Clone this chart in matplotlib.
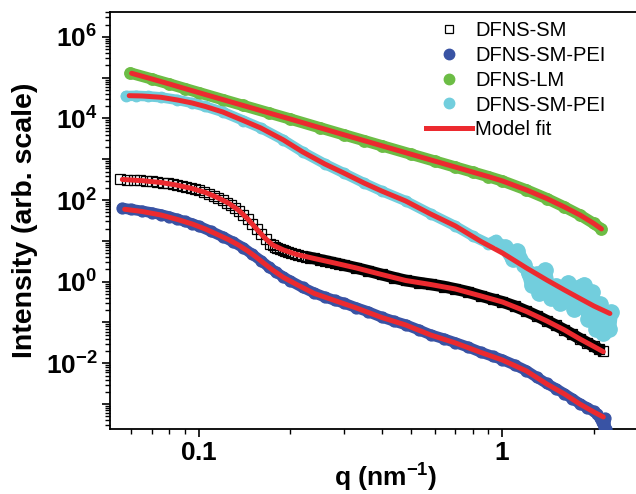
import numpy as np
import matplotlib
matplotlib.use("Agg")
import matplotlib.pyplot as plt
from matplotlib.lines import Line2D
from matplotlib.ticker import LogLocator, FixedLocator, FuncFormatter, NullFormatter

plt.rcParams['font.family'] = ['Liberation Sans', 'DejaVu Sans']
plt.rcParams['mathtext.fontset'] = 'custom'
plt.rcParams['mathtext.rm'] = 'Liberation Sans:bold'
plt.rcParams['mathtext.it'] = 'Liberation Sans:bold'
plt.rcParams['mathtext.bf'] = 'Liberation Sans:bold'
plt.rcParams['mathtext.default'] = 'rm'

# ---------------- measured SAXS curves ----------------
labels = ["DFNS-SM", "DFNS-SM-PEI", "DFNS-LM", "DFNS-SM-PEI", "Model fit"]

q_sm = [0.055, 0.058, 0.061, 0.064, 0.067, 0.070, 0.073, 0.076, 0.079, 0.082,
        0.085, 0.088, 0.091, 0.094, 0.097, 0.100, 0.104, 0.108, 0.112, 0.116,
        0.120, 0.124, 0.128, 0.132, 0.136, 0.140, 0.145, 0.150, 0.155, 0.160,
        0.166, 0.172, 0.175, 0.178, 0.181, 0.185, 0.189, 0.193, 0.197, 0.202,
        0.207, 0.212, 0.218, 0.225, 0.232, 0.24, 0.25, 0.26, 0.27, 0.28,
        0.29, 0.30, 0.33, 0.36, 0.40, 0.44, 0.48, 0.53, 0.58, 0.64,
        0.70, 0.77, 0.85, 0.93, 1.0, 1.1, 1.2, 1.3, 1.4, 1.5,
        1.6, 1.7, 1.8, 1.9, 2.0, 2.08, 2.15]
I_sm = [325, 318, 311, 303, 294, 286, 278, 266, 256, 245,
        232, 220, 208, 196, 184, 172, 158, 143, 127, 113,
        99, 87, 76, 64, 54, 44, 35, 26, 19.5, 14.8,
        11.2, 8.6, 7.8, 7.2, 6.7, 6.3, 6.0, 5.7, 5.4, 5.0,
        4.8, 4.55, 4.3, 4.1, 3.9, 3.7, 3.45, 3.25, 3.05, 2.87,
        2.7, 2.55, 2.17, 1.85, 1.50, 1.25, 1.07, 0.95, 0.86, 0.76,
        0.66, 0.56, 0.45, 0.37, 0.32, 0.25, 0.19, 0.145, 0.11, 0.085,
        0.066, 0.051, 0.040, 0.032, 0.026, 0.022, 0.0195]

q_pei = [0.056, 0.060, 0.065, 0.070, 0.075, 0.080, 0.085, 0.090, 0.095, 0.10,
         0.11, 0.12, 0.13, 0.14, 0.15, 0.16, 0.17, 0.18, 0.19, 0.20,
         0.22, 0.24, 0.26, 0.28, 0.30, 0.33, 0.36, 0.40, 0.44, 0.48,
         0.53, 0.58, 0.64, 0.70, 0.77, 0.85, 0.93, 1.0, 1.1, 1.2,
         1.3, 1.4, 1.5, 1.6, 1.7, 1.8, 1.9, 2.0, 2.05, 2.10,
         2.13, 2.16, 2.18, 2.19]
I_pei = [63, 59, 54, 49, 44, 39, 34, 30, 26.5, 23,
         17, 12.6, 9.3, 6.8, 4.7, 3.3, 2.3, 1.7, 1.3, 1.05,
         0.72, 0.53, 0.42, 0.35, 0.30, 0.23, 0.185, 0.135, 0.107, 0.088,
         0.066, 0.050, 0.040, 0.032, 0.025, 0.0186, 0.0148, 0.0122, 0.0090, 0.0066,
         0.0045, 0.0032, 0.0024, 0.0018, 0.00135, 0.00102, 0.00082, 0.00066, 0.00058, 0.00045,
         0.00036, 0.00028, 0.00045, 0.00024]

q_lm = [0.0595, 0.070, 0.080, 0.090, 0.10, 0.12, 0.14, 0.17, 0.20, 0.25,
        0.30, 0.35, 0.40, 0.50, 0.60, 0.70, 0.80, 0.90, 1.0, 1.2,
        1.4, 1.6, 1.8, 2.0, 2.12]
I_lm = [1.30e5, 9.3e4, 7.0e4, 5.4e4, 4.3e4, 2.9e4, 2.08e4, 1.37e4, 9.7e3, 5.95e3,
        4.0e3, 2.87e3, 2.15e3, 1.33e3, 898, 644, 483, 375, 294, 177,
        109, 67.8, 43.2, 26.7, 19.6]

q_pei2 = [0.0575, 0.062, 0.068, 0.075, 0.085, 0.095, 0.105, 0.12, 0.14, 0.16,
          0.19, 0.22, 0.26, 0.30, 0.35, 0.40, 0.48, 0.58, 0.70, 0.80,
          0.90, 0.95, 1.02, 1.08, 1.12, 1.18, 1.22, 1.25, 1.30, 1.32,
          1.38, 1.42, 1.45, 1.50, 1.55, 1.58, 1.65, 1.70, 1.72, 1.80,
          1.86, 1.90, 1.92, 1.98, 2.02, 2.04, 2.10, 2.13, 2.15, 2.20,
          2.25, 2.28]
I_pei2 = [3.55e4, 3.6e4, 3.5e4, 3.3e4, 2.85e4, 2.4e4, 1.97e4, 1.44e4, 8.9e3, 5.85e3,
          2.97e3, 1.51e3, 770, 460, 262, 167, 95, 46, 23, 13,
          8.5, 10.5, 7.1, 3.5, 5.6, 2.6, 1.6, 0.83, 1.5, 0.53,
          1.94, 0.7, 0.40, 0.8, 0.30, 0.45, 0.95, 0.35, 0.22, 0.75,
          0.85, 0.30, 0.12, 0.56, 0.20, 0.07, 0.28, 0.10, 0.055, 0.13,
          0.07, 0.18]

# ---------------- model fits ----------------
qf_sm = [0.056, 0.065, 0.075, 0.085, 0.095, 0.105, 0.115, 0.125, 0.135, 0.145,
         0.155, 0.165, 0.175, 0.19, 0.21, 0.24, 0.28, 0.33, 0.40, 0.48,
         0.58, 0.70, 0.85, 1.0, 1.2, 1.4, 1.6, 1.8, 2.0, 2.15]
If_sm = [320, 299, 270, 231, 192, 154, 116, 84.9, 57.1, 34.4,
         19.6, 11.8, 7.94, 5.98, 4.64, 3.70, 2.87, 2.17, 1.50, 1.07,
         0.853, 0.662, 0.446, 0.318, 0.186, 0.109, 0.0655, 0.0394, 0.0258, 0.0192]

qf_pei = [0.057, 0.065, 0.075, 0.085, 0.095, 0.105, 0.115, 0.125, 0.135, 0.145,
          0.155, 0.165, 0.175, 0.19, 0.21, 0.24, 0.28, 0.33, 0.40, 0.48,
          0.58, 0.70, 0.85, 1.0, 1.2, 1.4, 1.6, 1.8, 2.0, 2.15]
If_pei = [59.5, 52.6, 43.1, 33.5, 26.0, 19.6, 14.4, 10.8, 7.94, 5.65,
          3.92, 2.72, 1.93, 1.27, 0.853, 0.514, 0.346, 0.227, 0.133, 0.0869,
          0.0494, 0.0315, 0.0184, 0.0120, 6.48e-3, 3.11e-3, 1.77e-3, 1.0e-3, 6.4e-4, 4.83e-4]

qf_lm = [0.0601, 0.070, 0.080, 0.090, 0.10, 0.12, 0.14, 0.17, 0.20, 0.25,
         0.30, 0.35, 0.40, 0.50, 0.60, 0.70, 0.80, 0.90, 1.0, 1.2,
         1.4, 1.6, 1.8, 2.0, 2.12]
If_lm = [1.28e5, 9.3e4, 7.0e4, 5.4e4, 4.3e4, 2.9e4, 2.08e4, 1.37e4, 9.7e3, 5.95e3,
         4.0e3, 2.87e3, 2.15e3, 1.33e3, 898, 644, 483, 375, 294, 177,
         109, 67.8, 43.2, 26.7, 19.6]

qf_pei2 = [0.059, 0.065, 0.075, 0.085, 0.095, 0.105, 0.12, 0.14, 0.16, 0.19,
           0.22, 0.26, 0.30, 0.35, 0.40, 0.48, 0.58, 0.70, 0.85, 1.0,
           1.2, 1.4, 1.6, 1.8, 2.0, 2.26]
If_pei2 = [3.62e4, 3.56e4, 3.31e4, 2.84e4, 2.40e4, 1.97e4, 1.44e4, 8.93e3, 5.85e3, 2.97e3,
           1.51e3, 767, 462, 262, 167, 95, 45.6, 23.2, 9.67, 5.05,
           2.17, 1.10, 0.627, 0.388, 0.254, 0.166]

c_black = "black"
c_blue = "#3953a4"
c_green = "#6cbd45"
c_cyan = "#72cedd"
c_red = "#ec2a2f"

W, H = 636, 494
fig = plt.figure(figsize=(W / 100, H / 100), dpi=100)
ax = fig.add_axes([110 / W, 1 - 428.5 / H, 551 / W, 416.2 / H])
ax.set_xscale('log')
ax.set_yscale('log')
ax.set_xlim(0.0510, 3.33)
ax.set_ylim(2.52e-4, 4.0e6)

# DFNS-SM: open squares, solid band where points crowd together at high q
qa, Ia = np.array(q_sm), np.array(I_sm)
dense = qa >= 0.22
ax.plot(qa[dense], Ia[dense], '-', color=c_black, lw=8.5, solid_capstyle='butt', zorder=2)
ax.plot(qa, Ia, 's', ms=6.5, mfc='none', mec=c_black, mew=0.9, zorder=2)

# filled-circle series drawn as dense bands
for qs, Is, col, w in [(q_pei, I_pei, c_blue, 7.8),
                       (q_lm, I_lm, c_green, 8.2),
                       (q_pei2, I_pei2, c_cyan, 7.5)]:
    ax.plot(qs, Is, '-', color=col, lw=w, solid_capstyle='round',
            solid_joinstyle='round', zorder=3)
    ax.plot(qs, Is, 'o', ms=w, color=col, mec=col, zorder=3)

# noisy high-q tail of the second DFNS-SM-PEI set
qc, Ic = np.array(q_pei2), np.array(I_pei2)
tail = qc >= 1.0
ax.plot(qc[tail], Ic[tail], '-', color=c_cyan, lw=10, solid_capstyle='round',
        solid_joinstyle='round', zorder=3)
ax.plot(qc[tail], Ic[tail], 'o', ms=11, color=c_cyan, mec=c_cyan, zorder=3)

for qs, Is in [(qf_sm, If_sm), (qf_pei, If_pei), (qf_lm, If_lm), (qf_pei2, If_pei2)]:
    ax.plot(qs, Is, '-', color=c_red, lw=3.6, solid_capstyle='round', zorder=5)

# axes styling
ax.spines['right'].set_visible(False)
for s in ('left', 'bottom', 'top'):
    ax.spines[s].set_linewidth(1.3)

ax.yaxis.set_major_locator(LogLocator(base=10, numticks=30))
ax.yaxis.set_minor_locator(LogLocator(base=10, subs=np.arange(2, 10), numticks=30))


def ylab(v, pos):
    e = int(round(np.log10(v)))
    return r'$10^{%d}$' % e if e % 2 == 0 else ''


ax.yaxis.set_major_formatter(FuncFormatter(ylab))
ax.yaxis.set_minor_formatter(NullFormatter())

ax.xaxis.set_major_locator(FixedLocator([0.1, 1.0]))
ax.xaxis.set_minor_locator(LogLocator(base=10, subs=np.arange(2, 10), numticks=30))
ax.xaxis.set_major_formatter(FuncFormatter(lambda v, p: r'$%g$' % v))
ax.xaxis.set_minor_formatter(NullFormatter())

ax.tick_params(which='both', direction='out', top=False, right=False, labelsize=19, pad=3)
ax.tick_params(which='major', length=6, width=1.2)
ax.tick_params(which='minor', length=3.3, width=1.0)

ax.set_ylabel('Intensity (arb. scale)', fontsize=20.5, fontweight='bold')
ax.yaxis.set_label_coords(-0.130, 0.5)
ax.set_xlabel(r'q (nm$^{-1}$)', fontsize=19, fontweight='bold')
ax.xaxis.set_label_coords(0.5, -0.079)

handles = [
    Line2D([], [], ls='none', marker='s', ms=6, mfc='white', mec=c_black, mew=0.9),
    Line2D([], [], ls='none', marker='o', ms=7.5, color=c_blue),
    Line2D([], [], ls='none', marker='o', ms=7.5, color=c_green),
    Line2D([], [], ls='none', marker='o', ms=7.5, color=c_cyan),
    Line2D([], [], color=c_red, lw=3.6),
]
fig.legend(handles, labels, loc='upper left', bbox_to_anchor=(426 / W, 1 - 21 / H),
           frameon=False, fontsize=14.5, handlelength=2.3, handletextpad=0.15,
           labelspacing=0.29, borderpad=0, borderaxespad=0)

fig.savefig('out.png', dpi=100)
